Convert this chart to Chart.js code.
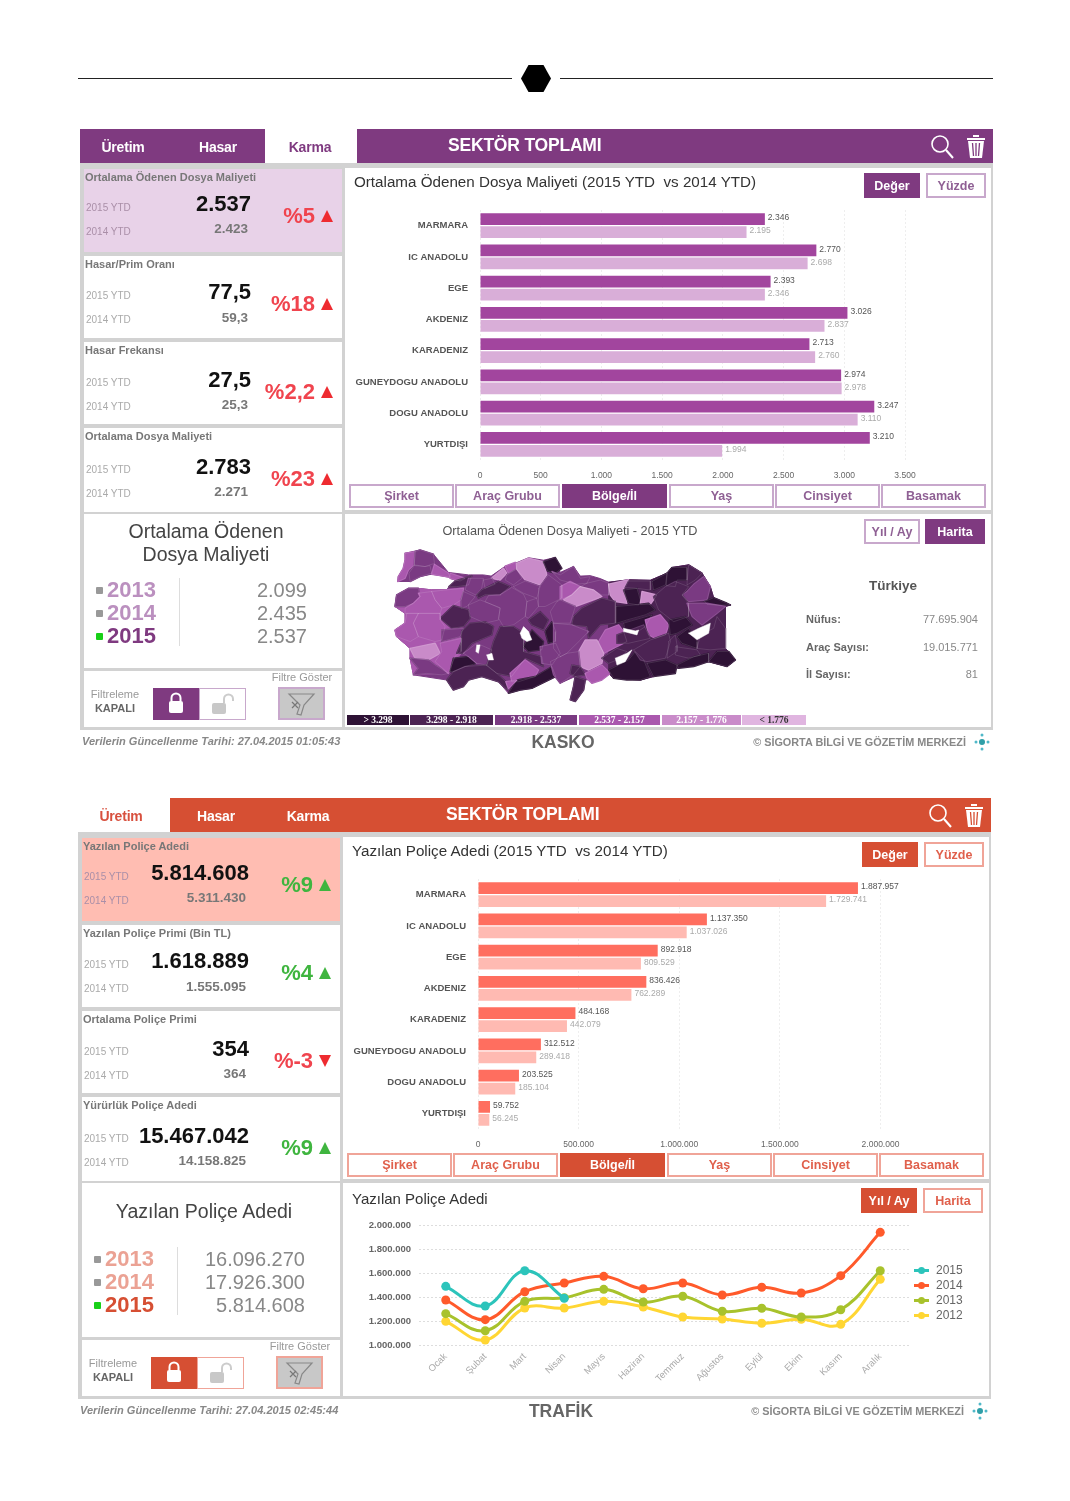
<!DOCTYPE html>
<html>
<head>
<meta charset="utf-8">
<title>Kasko / Trafik</title>
<script src="https://cdn.jsdelivr.net/npm/chart.js@4"></script>
<style>
  html, body { margin: 0; padding: 0; background: #fff; }
  #page { position: relative; width: 1070px; height: 1501px; overflow: hidden; font-family: "Liberation Sans", Arial, sans-serif; filter: blur(0.4px); }
  #page div, #page canvas, #page svg { position: absolute; }
  .t { white-space: pre; line-height: 1; }
</style>
</head>
<body>
<div id="page"></div>
<script>
// ---- data ----
const regions = ['MARMARA', 'IC ANADOLU', 'EGE', 'AKDENIZ', 'KARADENIZ', 'GUNEYDOGU ANADOLU', 'DOGU ANADOLU', 'YURTDIŞI'];
const kaskoCost2015 = [2346, 2770, 2393, 3026, 2713, 2974, 3247, 3210];
const kaskoCost2014 = [2195, 2698, 2346, 2837, 2760, 2978, 3110, 1994];
const trafikCount2015 = [1887957, 1137350, 892918, 836426, 484168, 312512, 203525, 59752];
const trafikCount2014 = [1729741, 1037026, 809529, 762289, 442079, 289418, 185104, 56245];

const months = ['Ocak', 'Şubat', 'Mart', 'Nisan', 'Mayıs', 'Haziran', 'Temmuz', 'Ağustos', 'Eylül', 'Ekim', 'Kasım', 'Aralık'];
const monthly2015 = [1489000, 1325000, 1619000, 1389000];
const monthly2014 = [1375000, 1211000, 1444000, 1517000, 1572000, 1469000, 1517000, 1417000, 1481000, 1433000, 1578000, 1939000];
const monthly2013 = [1261000, 1119000, 1364000, 1394000, 1464000, 1358000, 1406000, 1281000, 1306000, 1233000, 1294000, 1619000];
const monthly2012 = [1197000, 1042000, 1308000, 1308000, 1364000, 1317000, 1233000, 1217000, 1181000, 1214000, 1172000, 1547000];

const kaskoKpiTitles = ['Ortalama Ödenen Dosya Maliyeti', 'Hasar/Prim Oranı', 'Hasar Frekansı', 'Ortalama Dosya Maliyeti'];
const kaskoKpi2015 = ['2.537', '77,5', '27,5', '2.783'];
const kaskoKpi2014 = ['2.423', '59,3', '25,3', '2.271'];
const kaskoKpiPct = ['%5', '%18', '%2,2', '%23'];
const kaskoKpiDir = ['up', 'up', 'up', 'up'];
const kaskoYearly = ['2.099', '2.435', '2.537'];

const trafikKpiTitles = ['Yazılan Poliçe Adedi', 'Yazılan Poliçe Primi (Bin TL)', 'Ortalama Poliçe Primi', 'Yürürlük Poliçe Adedi'];
const trafikKpi2015 = ['5.814.608', '1.618.889', '354', '15.467.042'];
const trafikKpi2014 = ['5.311.430', '1.555.095', '364', '14.158.825'];
const trafikKpiPct = ['%9', '%4', '%-3', '%9'];
const trafikKpiDir = ['good', 'good', 'down', 'good'];
const trafikYearly = ['16.096.270', '17.926.300', '5.814.608'];

const years = ['2013', '2014', '2015'];
const tabs = ['Şirket', 'Araç Grubu', 'Bölge/İl', 'Yaş', 'Cinsiyet', 'Basamak'];
const mapBandLabels = ['> 3.298', '3.298 - 2.918', '2.918 - 2.537', '2.537 - 2.157', '2.157 - 1.776', '< 1.776'];

// Province outlines as [cost band, [lon, lat, lon, lat, ...]]. Band 6 = water.
const turkeyOutline = [2, [26.82,41.88, 27.63,42.02, 28.36,41.84, 29.17,41.1, 30.26,41.0, 31.07,41.0, 31.49,40.95, 32.25,41.35, 32.88,41.5, 33.52,41.7, 34.33,41.6, 34.97,41.71, 35.24,41.1, 35.96,41.34, 36.33,40.95, 36.87,40.97, 37.41,40.85, 37.87,40.7, 38.95,40.8, 40.13,40.78, 41.04,41.07, 41.31,41.3, 42.21,41.41, 42.94,41.07, 43.39,40.52, 43.57,40.07, 44.48,39.77, 44.21,39.71, 44.21,38.82, 44.21,38.0, 44.75,37.53, 44.3,37.26, 43.3,37.46, 41.6,37.19, 40.31,36.85, 39.59,36.71, 38.14,36.78, 37.87,36.98, 37.5,36.78, 36.6,36.71, 36.51,36.3, 36.06,35.83, 35.78,35.9, 35.96,36.44, 36.05,36.85, 35.24,36.58, 35,36.85, 33.7,36.37, 33.07,36.3, 32.43,36.17, 31.89,36.64, 30.98,36.85, 30.26,36.71, 29.99,36.44, 29.44,36.3, 29.08,36.71, 27.27,36.92, 27.09,37.6, 27.09,38.0, 26.36,38.48, 26.27,38.75, 26.82,39.03, 26.82,39.43, 26.27,39.71, 26.36,40.18, 27.0,40.45, 27.54,40.45, 28.26,40.39, 29.08,40.39, 29.2,40.52, 29.62,40.52, 30.26,40.6, 29.8,40.72, 29.26,40.86, 29.26,40.9, 28.72,40.97, 28.26,41.03, 27.63,40.93, 27.09,40.73, 26.42,40.73, 26.45,40.93, 26.72,41.27, 26.82,41.61]];
const easternBase = [1, [37.87,40.7, 38.95,40.8, 40.13,40.78, 41.04,41.07, 41.31,41.3, 42.21,41.41, 42.94,41.07, 43.39,40.52, 43.57,40.07, 44.48,39.77, 44.21,39.71, 44.21,38.82, 44.21,38.0, 44.75,37.53, 44.3,37.26, 43.3,37.46, 41.6,37.19, 40.31,36.85, 39.59,36.71, 38.14,36.78, 37.87,36.98]];
const westernBase = [3, [29.99,40.45, 29.86,37.8, 29.17,36.98, 27.27,36.92, 27.09,37.6, 27.09,38.0, 26.36,38.48, 26.27,38.75, 26.82,39.03, 26.82,39.43, 26.27,39.71, 26.36,40.18, 27.0,40.45, 27.54,40.45, 28.26,40.39, 29.08,40.39]];
const provinces = [
  [3, [26.82,41.88, 27.36,41.95, 27.32,41.41, 27.0,41.2, 26.82,40.86, 26.42,40.73, 26.45,40.93, 26.72,41.27, 26.82,41.61]],
  [2, [27.36,41.95, 27.63,42.02, 28.36,41.84, 28.41,41.47, 27.9,41.34, 27.32,41.41]],
  [2, [27.32,41.38, 27.9,41.34, 28.17,41.38, 28.26,41.07, 27.63,40.93, 27.09,40.73, 27.03,41.07]],
  [3, [28.41,41.43, 29.17,41.07, 29.26,40.9, 28.72,40.97, 28.26,41.03]],
  [3, [29.26,41.07, 30.08,40.86, 29.8,40.75, 29.26,40.86]],
  [1, [29.53,40.75, 30.44,40.97, 30.26,40.59, 29.62,40.52, 29.2,40.52]],
  [2, [26.27,39.71, 26.36,40.18, 27.0,40.45, 27.54,40.45, 27.63,40.11, 27.27,39.84, 26.82,39.71]],
  [3, [27.54,40.25, 28.26,40.32, 28.45,39.98, 28.81,39.64, 28.72,39.43, 27.54,39.43, 26.82,39.43, 26.82,39.64, 27.27,39.84, 27.63,40.11]],
  [3, [28.26,40.32, 29.08,40.39, 29.99,40.45, 29.86,39.98, 29.44,39.77, 28.81,39.64, 28.45,39.98]],
  [2, [29.99,40.32, 30.62,40.11, 30.17,39.71, 29.86,39.64, 29.86,39.98]],
  [2, [30.26,40.86, 31.07,40.86, 30.98,40.45, 30.66,40.18, 30.08,40.39]],
  [4, [31.49,40.86, 32.16,41.27, 32.34,41.07, 31.98,40.79]],
  [3, [32.25,41.35, 32.79,41.51, 32.88,41.27, 32.43,41.07]],
  [2, [32.34,41, 32.88,41.24, 33.16,40.86, 32.7,40.59, 32.25,40.79]],
  [4, [32.88,41.47, 33.52,41.68, 34.33,41.54, 34.51,41, 34.15,40.59, 33.34,40.79, 32.88,41.24]],
  [0, [34.33,41.54, 34.97,41.71, 35.33,41.27, 34.97,41.07, 34.55,41.16]],
  [2, [31.07,40.79, 31.53,40.86, 31.71,40.62, 31.16,40.45]],
  [1, [30.71,40.18, 30.98,40.39, 31.89,40.73, 32.52,40.53, 31.98,40.19, 31.16,40.19, 30.8,40.05]],
  [2, [32.7,40.52, 33.34,40.75, 34.15,40.53, 33.97,40.05, 33.25,40.25, 32.79,40.45]],
  [2, [31.98,40.18, 32.61,40.49, 33.25,40.21, 33.43,39.91, 33.34,39.3, 32.7,38.96, 32.16,38.89, 31.89,39.23, 31.98,39.64, 31.16,39.91, 31.34,40.15]],
  [2, [30.26,39.77, 30.89,39.98, 31.98,39.66, 31.89,39.16, 31.16,39.03, 30.35,39.3]],
  [1, [28.72,39.23, 29.44,39.75, 30.26,39.57, 30.35,39.23, 29.99,38.89, 29.35,38.82]],
  [3, [27.54,39.43, 28.72,39.43, 28.72,39.16, 28.99,38.89, 28.81,38.34, 28.45,38.28, 27.54,38.48, 27.27,39.03]],
  [3, [26.91,39.43, 27.54,39.43, 27.27,39.03, 27.54,38.48, 27.09,38.28, 26.36,38.48, 26.27,38.75, 26.82,39.03]],
  [2, [28.81,38.75, 29.99,38.82, 29.8,38.48, 28.81,38.28]],
  [4, [27.09,38.0, 28.45,38.21, 28.72,37.8, 28.08,37.53, 27.36,37.6]],
  [2, [27.09,37.6, 28.08,37.53, 28.45,37.32, 29.17,36.98, 28.81,36.92, 27.99,36.98, 27.27,36.92, 27.54,37.19]],
  [3, [28.72,38.21, 29.89,38.41, 29.86,37.87, 29.53,37.68, 29.17,36.98, 28.45,37.46, 28.81,37.87]],
  [0, [29.26,37.05, 29.44,37.6, 30.26,37.67, 30.71,37.39, 30.08,37.26, 29.44,37.05]],
  [1, [29.89,38.69, 30.35,39.03, 31.16,39.09, 31.62,38.89, 31.53,38.55, 30.44,38.21, 29.99,37.8, 29.62,37.8, 29.89,38.28]],
  [2, [29.99,37.8, 30.71,38.21, 31.53,37.94, 31.25,37.32, 30.71,37.39, 30.26,37.67]],
  [1, [29.08,36.71, 29.44,37.05, 30.08,37.26, 31.25,37.32, 31.8,36.98, 32.29,36.64, 32.39,36.3, 31.89,36.64, 30.98,36.85, 30.26,36.71, 29.99,36.44, 29.44,36.3]],
  [1, [31.25,37.29, 31.62,38.28, 31.98,38.89, 32.7,38.89, 33.25,38.62, 33.25,37.87, 34.24,37.66, 34.33,37.26, 33.34,37.6, 32.61,36.86, 31.8,36.98]],
  [3, [32.52,36.98, 33.34,37.53, 34.06,37.12, 33.88,36.85, 32.97,36.64, 32.61,36.64]],
  [0, [32.43,36.17, 32.88,36.71, 33.88,36.85, 34.79,37.26, 35.0,36.85, 33.7,36.37, 33.07,36.3]],
  [3, [32.29,36.64, 32.88,36.71, 32.43,36.36]],
  [0, [33.25,38.07, 33.7,38.75, 34.33,38.28, 34.24,37.94, 33.52,37.87]],
  [0, [34.42,38.69, 34.79,39.09, 35.0,38.69, 34.97,38.28, 34.6,38.21]],
  [2, [33.43,39.91, 33.97,40.05, 34.06,39.71, 33.52,39.23, 33.34,39.3]],
  [2, [34.06,40.45, 34.6,41, 35.33,40.59, 35.33,40.05, 34.42,39.71, 34.06,39.71]],
  [1, [33.52,39.16, 34.15,39.5, 34.6,39.16, 34.33,38.75, 33.7,38.96]],
  [2, [34.15,38.07, 35.0,38.21, 35.24,37.8, 34.79,37.32, 34.24,37.39]],
  [2, [34.79,41.14, 35.24,41, 35.96,41.34, 36.33,40.86, 36.87,40.93, 36.69,40.66, 36.15,40.62, 35.24,40.79]],
  [3, [35.24,40.52, 35.78,40.73, 36.33,40.52, 35.87,40.18, 35.24,39.98]],
  [2, [36.69,40.66, 37.41,40.79, 37.87,40.66, 37.87,40.18, 37.5,40.18, 37.05,40.38, 36.33,40.52]],
  [4, [36.33,40.52, 37.05,40.38, 37.5,40.11, 36.06,39.71, 35.42,39.98, 35.87,40.18]],
  [4, [37.87,40.62, 38.95,40.8, 38.68,40.45, 38.86,39.84, 38.23,39.91, 37.96,40.18]],
  [1, [38.95,40.75, 40.13,40.75, 40.13,40.38, 39.41,40.45, 38.77,40.48]],
  [0, [38.68,40.38, 39.41,40.45, 39.59,39.98, 39.5,39.77, 38.95,39.84]],
  [4, [39.68,40.32, 40.49,40.18, 40.13,39.8, 39.59,39.8]],
  [0, [40.22,40.73, 41.04,41.07, 40.95,40.59, 40.31,40.38]],
  [0, [41.04,41.07, 41.31,41.3, 42.12,41.3, 42.12,40.79, 41.58,40.79, 41.49,40.52, 41.0,40.56]],
  [1, [42.21,41.41, 42.94,41.07, 42.58,40.79, 42.12,40.59]],
  [2, [42.12,40.32, 42.49,40.62, 43.03,40.93, 43.39,40.52, 43.21,39.98, 42.21,39.91, 41.85,40.18]],
  [1, [40.31,40.11, 40.95,40.52, 41.49,40.73, 42.21,40.52, 41.85,40.18, 42.21,39.84, 42.21,39.3, 41.4,39.09, 40.58,39.57]],
  [0, [43.07,39.91, 43.57,40.07, 44.3,39.84, 44.48,39.77, 43.75,39.77, 43.21,39.8]],
  [2, [42.12,39.84, 43.21,39.84, 44.21,39.71, 43.75,39.43, 42.94,38.96, 42.4,39.3]],
  [0, [38.28,39.71, 39.23,39.77, 40.04,39.84, 40.4,39.57, 39.86,39.37, 38.86,39.16, 38.32,39.03]],
  [0, [38.68,39.03, 40.22,39.37, 39.86,38.89, 39.5,38.71, 38.77,38.75]],
  [3, [39.86,39.16, 40.67,39.37, 41.13,38.96, 40.95,38.55, 40.4,38.41, 40.04,38.55]],
  [1, [35.96,39.3, 36.42,39.64, 37.5,40.05, 38.23,39.91, 38.23,39.03, 37.41,38.96, 36.78,38.41, 36.69,38.89, 35.87,38.96]],
  [2, [34.88,39.03, 35.87,38.96, 36.78,38.69, 36.33,38.34, 35.6,37.8, 35.24,37.66, 34.88,38.0]],
  [2, [35.06,39.91, 35.24,39.98, 36.06,39.71, 35.78,39.03, 34.88,39.03, 34.7,39.5]],
  [3, [37.32,38.28, 37.69,38.75, 38.41,38.96, 38.68,38.69, 38.86,38.28, 37.6,37.8]],
  [1, [38.32,38.55, 39.77,38.96, 40.13,38.41, 38.95,38.21, 38.32,38.21]],
  [4, [36.24,37.87, 36.6,38.34, 37.23,38.34, 37.6,37.8, 37.5,37.39, 36.78,37.12, 36.33,37.26]],
  [2, [35.24,37.66, 35.6,37.8, 36.24,37.87, 36.33,37.26, 35.96,36.92, 35.24,36.58, 34.88,36.92, 34.7,37.46]],
  [1, [35.87,37.32, 36.33,37.26, 36.6,36.92, 36.05,36.85, 35.78,36.98]],
  [1, [35.78,35.9, 35.96,36.44, 36.05,36.85, 36.6,36.71, 36.51,36.3, 36.06,35.83]],
  [3, [36.6,36.98, 37.5,37.32, 37.96,36.98, 37.5,36.71, 36.96,36.58, 36.69,36.78]],
  [1, [37.5,37.6, 38.32,38.0, 38.86,37.87, 38.32,37.53, 37.87,37.39]],
  [0, [37.87,37.12, 38.41,37.32, 38.95,37.53, 39.32,37.87, 39.77,37.53, 40.13,36.85, 39.59,36.71, 38.86,36.71, 38.14,36.78]],
  [1, [39.23,37.94, 40.13,38.34, 41.13,38.62, 41.22,38.28, 40.95,37.6, 39.95,37.46, 39.59,37.53]],
  [0, [39.95,37.39, 40.95,37.53, 41.58,37.32, 41.49,36.98, 40.31,36.85]],
  [1, [41.13,38.28, 41.49,38.55, 41.58,38.14, 41.58,37.87, 41.04,37.6]],
  [0, [41.13,39.16, 42.03,39.3, 42.4,38.96, 41.58,38.62, 41.22,38.55]],
  [0, [41.58,38.48, 42.21,38.82, 42.67,38.28, 42.67,38.0, 41.85,38.21]],
  [1, [41.49,38.07, 42.67,37.94, 42.85,37.73, 42.21,37.6, 41.49,37.73]],
  [1, [42.67,38.0, 42.85,38.55, 43.57,38.82, 43.75,39.3, 44.21,38.82, 44.21,38.0, 43.39,37.94]],
  [0, [43.3,37.46, 43.75,37.87, 44.39,37.87, 44.75,37.53, 44.3,37.26]],
  [0, [41.58,37.32, 42.49,37.66, 43.3,37.8, 43.3,37.46, 42.49,37.26, 41.67,37.19]]
];
const lakes = [
  [6, [42.21,38.62, 42.76,38.82, 43.39,39.03, 43.3,38.62, 42.67,38.35]],
  [6, [38.68,38.82, 39.32,38.71, 39.5,38.75, 39.41,38.55, 38.68,38.69]],
  [6, [38.23,37.6, 38.86,37.8, 39.14,37.94, 38.77,37.46, 38.32,37.32]],
  [6, [33.07,38.62, 33.25,38.89, 33.52,38.69, 33.7,38.35, 33.43,38.28, 33.16,38.41]],
  [6, [31.25,37.73, 31.53,37.8, 31.62,37.53, 31.34,37.53]],
  [6, [30.71,38.14, 30.89,38.14, 30.8,37.8, 30.66,37.87]]
];
const mapColors = ['#2e1235', '#4c2353', '#7a3a82', '#aa58ae', '#c98bc9', '#e0b5e0', '#ffffff'];

// ---- helpers ----
const page = document.getElementById('page');
const FONT = '"Liberation Sans", Arial, sans-serif';
const dots = v => String(v).replace(/\B(?=(\d{3})+$)/g, '.');

function box(x, y, w, h, css) {
  const d = document.createElement('div');
  d.style.cssText = `left:${x}px;top:${y}px;width:${w}px;height:${h}px;box-sizing:border-box;` + (css || '');
  page.appendChild(d);
  return d;
}
function text(x, y, s, size, color, opts) {
  opts = opts || {};
  const d = document.createElement('div');
  d.className = 't';
  const tx = opts.align === 'right' ? '-100%' : opts.align === 'center' ? '-50%' : '0';
  d.textContent = s;
  d.style.cssText = `left:${x}px;top:${y}px;font-size:${size}px;color:${color};transform:translate(${tx},-50%);` +
    (opts.bold ? 'font-weight:bold;' : '') + (opts.css || '');
  page.appendChild(d);
}
function btn(x, y, w, h, label, on, th, size) {
  box(x, y, w, h, on ? `background:${th.accent};` : `background:#fff;border:2px solid ${th.border};`);
  text(x + w / 2, y + h / 2, label, size || 12.5, on ? '#fff' : th.btnText, { align: 'center', bold: true });
}
function svg(x, y, w, h, inner) {
  const d = box(x, y, w, h);
  d.innerHTML = `<svg style="left:0;top:0" width="${w}" height="${h}" viewBox="0 0 ${w} ${h}">${inner}</svg>`;
}
function canvas(x, y, w, h) {
  const c = document.createElement('canvas');
  c.style.cssText = `left:0;top:0;width:${w}px;height:${h}px;`;
  c.width = w; c.height = h;
  box(x, y, w, h).appendChild(c);
  return c;
}

const barValueLabels = {
  id: 'barValueLabels',
  afterDatasetsDraw(chart) {
    const ctx = chart.ctx;
    ctx.save();
    ctx.font = '8.5px ' + FONT;
    ctx.textBaseline = 'middle';
    chart.data.datasets.forEach((ds, i) => {
      ctx.fillStyle = i === 0 ? '#555' : '#aaa';
      chart.getDatasetMeta(i).data.forEach((bar, j) => ctx.fillText(dots(ds.data[j]), bar.x + 3, bar.y - 1));
    });
    ctx.restore();
  }
};

const longGrid = {
  id: 'longGrid',
  beforeDatasetsDraw(chart) {
    const { ctx, scales: { y }, chartArea } = chart;
    ctx.save();
    ctx.strokeStyle = '#ddd';
    ctx.setLineDash([2, 2]);
    y.ticks.forEach(t => {
      const py = Math.round(y.getPixelForValue(t.value)) + 0.5;
      ctx.beginPath();
      ctx.moveTo(chartArea.left - 7, py);
      ctx.lineTo(chartArea.right + 9, py);
      ctx.stroke();
    });
    ctx.restore();
  }
};

function barChart(x, y, cats, cur, prev, colors, max, step, rightPad) {
  // canvas spans the axis labels; plot starts 135px in
  return new Chart(canvas(x, y, 646, 285), {
    type: 'bar',
    data: {
      labels: cats,
      datasets: [
        { label: '2015 YTD', data: cur, backgroundColor: colors[0] },
        { label: '2014 YTD', data: prev, backgroundColor: colors[1] }
      ]
    },
    options: {
      indexAxis: 'y',
      responsive: false,
      animation: false,
      categoryPercentage: 0.833,
      barPercentage: 0.92,
      layout: { padding: { top: 10, right: rightPad, left: 0, bottom: 0 } },
      plugins: { legend: { display: false }, tooltip: { enabled: false } },
      scales: {
        x: {
          min: 0, max: max,
          ticks: { stepSize: step, color: '#666', font: { size: 8.5, family: FONT }, callback: v => dots(v), padding: 11, maxRotation: 0 },
          grid: { color: '#eee', drawTicks: false },
          border: { display: false, dash: [2, 2] },
          afterFit(a) { a.height = 25; }
        },
        y: {
          ticks: { color: '#555', font: { size: 9.5, weight: 'bold', family: FONT }, padding: 0 },
          grid: { drawOnChartArea: false, tickLength: 12, tickColor: 'transparent' },
          border: { display: false },
          afterFit(a) { a.width = 135; }
        }
      }
    },
    plugins: [barValueLabels]
  });
}

function lineChart(x, y) {
  const series = [
    ['2015', monthly2015, '#2cc4bb'],
    ['2014', monthly2014, '#ff5a2b'],
    ['2013', monthly2013, '#a8c22c'],
    ['2012', monthly2012, '#ffd633']
  ];
  return new Chart(canvas(x, y, 600, 180), {
    type: 'line',
    data: {
      labels: months,
      datasets: series.map(s => ({
        label: s[0], data: s[1], borderColor: s[2], backgroundColor: s[2],
        borderWidth: 3, tension: 0.4, pointRadius: 4.5, pointBorderWidth: 0
      }))
    },
    options: {
      responsive: false,
      animation: false,
      layout: { padding: { top: 10, right: 45, left: 0, bottom: 0 } },
      plugins: { legend: { display: false }, tooltip: { enabled: false } },
      scales: {
        x: {
          offset: true,
          ticks: { color: '#aaa', font: { size: 9.5, family: FONT }, minRotation: 45, maxRotation: 45, padding: 6 },
          grid: { display: false, drawTicks: false },
          border: { display: false },
          afterFit(a) { a.height = 50; }
        },
        y: {
          min: 1000000, max: 2000000,
          ticks: { stepSize: 200000, color: '#666', font: { size: 9.5, weight: 'bold', family: FONT }, callback: v => dots(v), padding: 0 },
          grid: { drawOnChartArea: false, tickLength: 15, tickColor: 'transparent' },
          border: { display: false },
          afterFit(a) { a.width = 81; }
        }
      }
    },
    plugins: [longGrid]
  });
}

function shapePoints(flat) {
  const pts = [];
  for (let i = 0; i < flat.length; i += 2) pts.push({ x: flat[i], y: flat[i + 1] });
  pts.push(pts[0]);
  return pts;
}

function mapChart(x, y) {
  // first dataset is drawn on top: lakes, thin province lines, province fills, bases
  const common = { showLine: true, tension: 0, pointRadius: 0, borderJoinStyle: 'round', borderCapStyle: 'round' };
  const filled = (band, flat, width) => ({ ...common, data: shapePoints(flat), fill: 'shape', backgroundColor: mapColors[band], borderColor: mapColors[band], borderWidth: width });
  const datasets = [
    ...lakes.map(([band, flat]) => filled(band, flat, 0.5)),
    ...provinces.map(([band, flat]) => ({ ...common, data: shapePoints(flat), fill: false, borderColor: 'rgba(255,255,255,0.2)', borderWidth: 0.6 })),
    ...[...provinces].reverse().map(([band, flat]) => filled(band, flat, 1.5)),
    filled(easternBase[0], easternBase[1], 1),
    filled(westernBase[0], westernBase[1], 1),
    filled(turkeyOutline[0], turkeyOutline[1], 1)
  ];
  return new Chart(canvas(x, y, 350, 160), {
    type: 'scatter',
    data: { datasets },
    options: {
      responsive: false,
      animation: false,
      plugins: { legend: { display: false }, tooltip: { enabled: false } },
      scales: {
        x: { display: false, min: 26, max: 45 },
        y: { display: false, min: 35.69, max: 42.22 }
      }
    }
  });
}

const themes = {
  kasko: { accent: '#7f3a80', border: '#c8a8cc', btnText: '#8f6094', card: '#e8d2e8', yearOff: '#bb90bf' },
  trafik: { accent: '#d64f33', border: '#f0a498', btnText: '#e0604c', card: '#ffbdb2', yearOff: '#eba294' }
};

function dashboard(dx, dy, th, cfg) {
  const X = v => v + dx, Y = v => v + dy;
  // grey frame
  box(X(80), Y(163), 913, 567, 'background:#d2d2d2;');
  // tab strip
  box(X(357), Y(129), 636, 34, `background:${th.accent};`);
  cfg.tabBg.forEach(r => box(X(r[0]), Y(129), r[1] - r[0], 34, `background:${r[2] ? th.accent : '#fff'};`));
  cfg.tabText.forEach(r => text(X(r[0]), Y(147), r[1], 14, r[2] ? '#fff' : r[3], { align: 'center', bold: true, css: 'letter-spacing:-0.2px;' }));
  text(X(448), Y(146), 'SEKTÖR TOPLAMI', 17.5, '#fff', { bold: true, css: 'letter-spacing:-0.2px;' });
  svg(X(930), Y(133), 24, 26, '<circle cx="10" cy="11" r="8" fill="none" stroke="#fff" stroke-width="1.6"/><path d="M16 17 L23 25" stroke="#fff" stroke-width="2"/>');
  svg(X(964), Y(131), 24, 28, '<path d="M3 7H21V9H3ZM9 4H15V6H9Z" fill="#fff"/><path d="M4 10H20L18 27H6Z" fill="#fff"/><path d="M8.5 12L9.5 25M12 12V25M15.5 12L14.5 25" stroke="' + th.accent + '" stroke-width="1.3"/>');

  // KPI cards
  const tops = [[169, 83], [256, 82], [342, 82], [428, 84]];
  const yTitle = [177, 264, 350, 436], yVal = [204, 292, 380, 467], yPrev = [229, 318, 405, 492];
  const yPct = [216, 304, 392, 479], y15 = [208, 296, 383, 470], y14 = [232, 320, 407, 494];
  tops.forEach((t, i) => {
    box(X(84), Y(t[0]), 258, t[1], `background:${i === 0 ? th.card : '#fff'};`);
    text(X(85), Y(yTitle[i]), cfg.titles[i], 11, '#777', { bold: true });
    text(X(86), Y(y15[i]), '2015 YTD', 10, i === 0 ? '#aa8fa8' : '#aaa');
    text(X(86), Y(y14[i]), '2014 YTD', 10, i === 0 ? '#aa8fa8' : '#aaa');
    text(X(251), Y(yVal[i]), cfg.cur[i], 22, '#111', { align: 'right', bold: true });
    text(X(248), Y(yPrev[i]), cfg.prev[i], 13.5, '#777', { align: 'right', bold: true });
    const good = cfg.dir[i] === 'good', down = cfg.dir[i] === 'down';
    const col = good ? '#3fb53f' : '#f0444e';
    text(X(315), Y(yPct[i]), cfg.pct[i], 22, col, { align: 'right', bold: true });
    const tri = down ? '0,0 12,0 6,12' : '0,12 12,12 6,0';
    svg(X(321), Y(yPct[i] - 6), 13, 13, `<polygon points="${tri}" fill="${good ? '#3fb53f' : '#ee2b30'}"/>`);
  });

  // yearly summary
  box(X(84), Y(514), 258, 154, 'background:#fff;');
  cfg.summaryTitle.forEach((s, i) => text(X(206), Y(cfg.summaryY[i]), s, 19.5, '#444', { align: 'center' }));
  box(X(179), Y(578), 1, 68, 'background:#ddd;');
  years.forEach((yr, i) => {
    const py = [590, 613, 636][i];
    box(X(96), Y(py - 3), 7, 7, `border-radius:1px;background:${i === 2 ? '#18d018' : '#999'};`);
    text(X(107), Y(py), yr, 22, i === 2 ? th.accent : th.yearOff, { bold: true });
    text(X(307), Y(py), cfg.yearly[i], 20, '#888', { align: 'right' });
  });

  // filter strip
  box(X(84), Y(671), 258, 56, 'background:#fff;');
  text(X(115), Y(694), 'Filtreleme', 11, '#999', { align: 'center' });
  text(X(115), Y(708), 'KAPALI', 11, '#666', { align: 'center', bold: true });
  box(X(153), Y(688), 46, 32, `background:${th.accent};`);
  svg(X(153), Y(688), 46, 32, '<rect x="16" y="13" width="14" height="12" rx="2" fill="#fff"/><path d="M18.5 13V10a4.5 4.5 0 0 1 9 0v3" fill="none" stroke="#fff" stroke-width="2"/>');
  box(X(199), Y(688), 47, 32, `background:#fff;border:1.5px solid ${th.border};`);
  svg(X(199), Y(688), 47, 32, '<rect x="13" y="15" width="14" height="11" rx="2" fill="#c8c8c8"/><path d="M25 15V11a4.5 4.5 0 0 1 9 0v2" fill="none" stroke="#ccc" stroke-width="2"/>');
  text(X(302), Y(677), 'Filtre Göster', 11, '#999', { align: 'center' });
  box(X(278), Y(687), 47, 33, `background:#c8c8c8;border:2px solid ${th.border};`);
  svg(X(278), Y(687), 47, 33, '<path d="M11 7H36L26 18L23 28L19 27L22 18Z" fill="none" stroke="#888" stroke-width="1.2"/><path d="M14 15L20 21M20 15L14 21" stroke="#777" stroke-width="1.2"/>');

  // right panes
  box(X(345), Y(168), 646, 342, 'background:#fff;');
  box(X(345), Y(514), 646, 213, 'background:#fff;');
  text(X(354), Y(182), cfg.barTitle, 15.2, '#333');
  btn(X(864), Y(173), 56, 25, 'Değer', true, th);
  btn(X(926), Y(173), 60, 25, 'Yüzde', false, th);
  const tabX = [349, 455, 562, 669, 775, 881];
  tabs.forEach((t, i) => btn(X(tabX[i]), Y(484), 105, 24, t, i === 2, th));
  barChart(X(345), Y(200), regions, cfg.barCur, cfg.barPrev, cfg.barColors, cfg.barMax, cfg.barStep, cfg.barRightPad);

  // footer
  text(X(82), Y(742), 'Verilerin Güncellenme Tarihi: ' + cfg.stamp, 11.05, '#888', { bold: true, css: 'font-style:italic;' });
  text(X(563), Y(743), cfg.product, 17.5, '#666', { align: 'center', bold: true });
  text(X(966), Y(742), '© SİGORTA BİLGİ VE GÖZETİM MERKEZİ', 10.85, '#888', { align: 'right', bold: true });
  svg(X(973), Y(733), 18, 18, '<circle cx="9" cy="9" r="3" fill="#2f9fa8"/><circle cx="9" cy="2" r="1.5" fill="#4fb8c8"/><circle cx="9" cy="16" r="1.5" fill="#4fb8c8"/><circle cx="3" cy="9" r="1.5" fill="#4fb8c8"/><circle cx="15" cy="9" r="1.5" fill="#4fb8c8"/>');
}

// ---- top ornament ----
box(78, 78, 434, 1, 'background:#222;');
box(560, 78, 433, 1, 'background:#222;');
box(521, 65, 30, 27, 'background:#000;clip-path:polygon(25% 0,75% 0,100% 50%,75% 100%,25% 100%,0 50%);');

// ---- Kasko ----
const kaskoTheme = themes.kasko, trafikTheme = themes.trafik;
dashboard(0, 0, kaskoTheme, {
  tabBg: [[80, 265, true], [265, 357, false]],
  tabText: [[123, 'Üretim', true], [218, 'Hasar', true], [310, 'Karma', false, '#7f3a80']],
  titles: kaskoKpiTitles, cur: kaskoKpi2015, prev: kaskoKpi2014, pct: kaskoKpiPct, dir: kaskoKpiDir,
  summaryTitle: ['Ortalama Ödenen', 'Dosya Maliyeti'], summaryY: [532, 555], yearly: kaskoYearly,
  barTitle: 'Ortalama Ödenen Dosya Maliyeti (2015 YTD  vs 2014 YTD)',
  barCur: kaskoCost2015, barPrev: kaskoCost2014, barColors: ['#a2459e', '#d9aed8'], barMax: 3500, barStep: 500, barRightPad: 86,
  stamp: '27.04.2015 01:05:43', product: 'KASKO'
});
text(570, 531, 'Ortalama Ödenen Dosya Maliyeti - 2015 YTD', 12.7, '#555', { align: 'center' });
btn(864, 519, 56, 25, 'Yıl / Ay', false, kaskoTheme);
btn(925, 519, 60, 25, 'Harita', true, kaskoTheme);
mapChart(390, 545);
text(893, 586, 'Türkiye', 13.5, '#555', { align: 'center', bold: true });
[['Nüfus:', '77.695.904', 619], ['Araç Sayısı:', '19.015.771', 647], ['İl Sayısı:', '81', 674]].forEach(r => {
  text(806, r[2], r[0], 11, '#666', { bold: true });
  text(978, r[2], r[1], 11, '#888', { align: 'right' });
});
const bandX = [[347, 409], [410, 493], [495, 577], [579, 660], [662, 741], [742, 806]];
mapBandLabels.forEach((s, i) => {
  box(bandX[i][0], 715, bandX[i][1] - bandX[i][0], 10, `background:${mapColors[i]};`);
  text((bandX[i][0] + bandX[i][1]) / 2, 720.5, s, 9.5, i === 5 ? '#333' : '#fff', { align: 'center', bold: true, css: 'font-family:"Liberation Serif",serif;' });
});

// ---- Trafik ----
dashboard(-2, 669, trafikTheme, {
  tabBg: [[80, 172, false], [172, 357, true]],
  tabText: [[123, 'Üretim', false, '#d8503e'], [218, 'Hasar', true], [310, 'Karma', true]],
  titles: trafikKpiTitles, cur: trafikKpi2015, prev: trafikKpi2014, pct: trafikKpiPct, dir: trafikKpiDir,
  summaryTitle: ['Yazılan Poliçe Adedi'], summaryY: [543], yearly: trafikYearly,
  barTitle: 'Yazılan Poliçe Adedi (2015 YTD  vs 2014 YTD)',
  barCur: trafikCount2015, barPrev: trafikCount2014, barColors: ['#ff6e5f', '#ffbab2'], barMax: 2000000, barStep: 500000, barRightPad: 108.5,
  stamp: '27.04.2015 02:45:44', product: 'TRAFİK'
});
text(352, 1198, 'Yazılan Poliçe Adedi', 15, '#333');
btn(861, 1188, 56, 25, 'Yıl / Ay', true, trafikTheme);
btn(923, 1188, 60, 25, 'Harita', false, trafikTheme);
lineChart(345, 1215);
[['2015', '#2cc4bb', 1270], ['2014', '#ff5a2b', 1285], ['2013', '#a8c22c', 1300], ['2012', '#ffd633', 1315]].forEach(r => {
  box(914, r[2] - 1, 15, 2.5, `background:${r[1]};`);
  box(918, r[2] - 3.5, 7, 7, `background:${r[1]};border-radius:50%;`);
  text(936, r[2], r[0], 12, '#666');
});
</script>
</body>
</html>
